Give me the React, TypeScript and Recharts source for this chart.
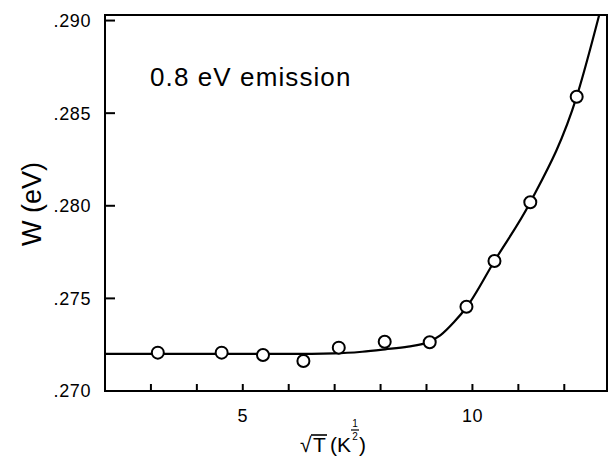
import {
  ComposedChart,
  Line,
  Scatter,
  XAxis,
  YAxis,
  ReferenceArea,
} from 'recharts'

// measured points: sqrt(T) vs W (eV)
const pointX = [3.15, 4.54, 5.44, 6.32, 7.09, 8.09, 9.07, 9.87, 10.48, 11.26, 12.27]
const pointW = [0.27207, 0.27207, 0.27194, 0.27162, 0.27234, 0.27266, 0.27263, 0.27455, 0.27702, 0.28019, 0.28589]

// fitted curve
const curveX = [2, 4, 6, 7, 7.6, 8.1, 8.6, 9.0, 9.3, 9.6, 9.88, 10.48, 11.26, 12.27, 12.76]
const curveW = [0.272, 0.272, 0.272, 0.27203, 0.27212, 0.27225, 0.2724, 0.2726, 0.273, 0.27372, 0.27455, 0.27702, 0.28019, 0.28589, 0.2903]

const xTicks = [3, 4, 5, 6, 7, 8, 9, 10, 11, 12]
const xLabelled = [5, 10]
const yTicks = [0.27, 0.275, 0.28, 0.285, 0.29]

const X_MIN = 2
const X_MAX = 12.93
const Y_MIN = 0.27
const Y_MAX = 0.2903

const FONT = '"Liberation Sans", Arial, Helvetica, sans-serif'

const points = pointX.map((x, i) => ({ x, w: pointW[i] }))
const curve = curveX.map((x, i) => ({ x, w: curveW[i] }))

// eslint-disable-next-line @typescript-eslint/no-explicit-any
function XTick(props: any) {
  const { x, y, payload } = props
  if (!xLabelled.includes(payload.value)) return null
  return (
    <text x={x} y={y + 38} textAnchor="middle" fontSize={18} fontFamily={FONT} fill="#000" letterSpacing={0.5}>
      {payload.value}
    </text>
  )
}

// eslint-disable-next-line @typescript-eslint/no-explicit-any
function YTick(props: any) {
  const { x, y, payload } = props
  return (
    <text x={x} y={y} dy="0.36em" textAnchor="end" fontSize={18} fontFamily={FONT} fill="#000" letterSpacing={0.6}>
      {payload.value.toFixed(3).replace(/^0/, '')}
    </text>
  )
}

// eslint-disable-next-line @typescript-eslint/no-explicit-any
function OpenCircle(props: any) {
  const { cx, cy } = props
  return <circle cx={cx} cy={cy} r={6} fill="#fff" stroke="#000" strokeWidth={2} />
}

function XTitle() {
  return (
    <g fontFamily={FONT} fill="#000">
      <text x={300} y={452} fontSize={21}>√</text>
      <line x1={311} x2={327} y1={435} y2={435} stroke="#000" strokeWidth={1.6} />
      <text x={313} y={452} fontSize={21}>T</text>
      <text x={330} y={452} fontSize={21}>(</text>
      <text x={337} y={452} fontSize={21}>K</text>
      <text x={355} y={427} fontSize={10} textAnchor="middle">1</text>
      <line x1={351} x2={359} y1={430} y2={430} stroke="#000" strokeWidth={1.2} />
      <text x={355} y={440} fontSize={10} textAnchor="middle">2</text>
      <text x={359} y={452} fontSize={21}>)</text>
    </g>
  )
}

function YTitle() {
  return (
    <g fontFamily={FONT} fill="#000">
      <text
        x={41}
        y={204}
        fontSize={27}
        textAnchor="middle"
        transform="rotate(-90, 41, 204)"
      >
        W (eV)
      </text>
      <text x={150} y={86} fontSize={26} letterSpacing={1.1}>
        0.8 eV emission
      </text>
    </g>
  )
}

export default function App() {
  return (
    <div style={{ position: 'absolute', left: 0, top: 0, background: '#fff' }}>
      <ComposedChart
        width={610}
        height={457}
        margin={{ top: 15, right: 3, bottom: 0, left: 0 }}
      >
        <XAxis
          dataKey="x"
          type="number"
          domain={[X_MIN, X_MAX]}
          ticks={xTicks}
          tick={XTick}
          tickSize={-7}
          tickMargin={0}
          height={66}
          axisLine={{ stroke: '#000', strokeWidth: 2 }}
          tickLine={{ stroke: '#000', strokeWidth: 2 }}
          allowDataOverflow
          label={{ content: () => <XTitle /> }}
        />
        <YAxis
          dataKey="w"
          type="number"
          domain={[Y_MIN, Y_MAX]}
          ticks={yTicks}
          tick={YTick}
          tickSize={-10}
          tickMargin={24}
          width={105}
          axisLine={{ stroke: '#000', strokeWidth: 2 }}
          tickLine={{ stroke: '#000', strokeWidth: 2 }}
          allowDataOverflow
          label={{ content: () => <YTitle /> }}
        />
        <ReferenceArea
          x1={X_MIN}
          x2={X_MAX}
          y1={Y_MIN}
          y2={Y_MAX}
          fill="none"
          fillOpacity={0}
          stroke="#000"
          strokeWidth={2}
        />
        <Line
          data={curve}
          dataKey="w"
          type="monotone"
          stroke="#000"
          strokeWidth={2.2}
          dot={false}
          activeDot={false}
          isAnimationActive={false}
        />
        <Scatter
          data={points}
          dataKey="w"
          shape={OpenCircle}
          isAnimationActive={false}
        />
      </ComposedChart>
    </div>
  )
}
